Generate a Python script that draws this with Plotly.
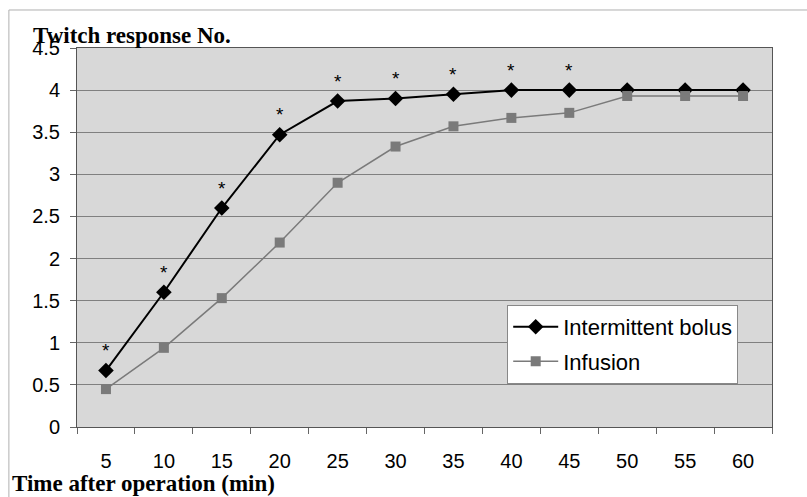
import plotly.graph_objects as go

times = [5, 10, 15, 20, 25, 30, 35, 40, 45, 50, 55, 60]
bolus = [0.67, 1.6, 2.6, 3.47, 3.87, 3.9, 3.95, 4.0, 4.0, 4.0, 4.0, 4.0]
infusion = [0.45, 0.94, 1.53, 2.19, 2.9, 3.33, 3.57, 3.67, 3.73, 3.93, 3.93, 3.93]
star_times = [5, 10, 15, 20, 25, 30, 35, 40, 45]
y_ticks = [0, 0.5, 1, 1.5, 2, 2.5, 3, 3.5, 4, 4.5]

fig = go.Figure()
fig.add_trace(go.Scatter(
    x=times, y=bolus, name="Intermittent bolus", mode="lines+markers",
    legendgroup="a",
    line=dict(color="#000000", width=2),
    marker=dict(symbol="diamond", size=12, color="#000000"),
))
fig.add_trace(go.Scatter(
    x=times, y=infusion, name="Infusion", mode="lines+markers",
    legendgroup="b",
    line=dict(color="#7a7a7a", width=1.5),
    marker=dict(symbol="square", size=10, color="#7a7a7a"),
))

bolus_map = dict(zip(times, bolus))
for t in star_times:
    fig.add_annotation(x=t, y=bolus_map[t], text="*", showarrow=False,
                       yshift=20, font=dict(family="Arial, Liberation Sans", size=19, color="#000"))

fig.add_annotation(xref="paper", yref="paper", x=-0.0663, y=1.034, xanchor="left", yanchor="middle",
                   text="<b>Twitch response No.</b>", showarrow=False,
                   font=dict(family="Liberation Serif, Times New Roman", size=23, color="#000"))
fig.add_annotation(xref="paper", yref="paper", x=-0.097, y=-0.148, xanchor="left", yanchor="middle",
                   text="<b>Time after operation (min)</b>", showarrow=False,
                   font=dict(family="Liberation Serif, Times New Roman", size=23, color="#000"))

# outer chart border (top and left visible)
fig.add_shape(type="line", xref="paper", yref="paper", x0=-0.098, x1=1.06, y0=1.1003, y1=1.1003,
              line=dict(color="#b0b0b0", width=1))
fig.add_shape(type="line", xref="paper", yref="paper", x0=-0.098, x1=-0.098, y0=-0.19, y1=1.1003,
              line=dict(color="#b0b0b0", width=1))

fig.update_layout(
    width=807, height=497,
    margin=dict(l=77, r=35, t=48, b=70),
    paper_bgcolor="#ffffff",
    plot_bgcolor="#d8d8d8",
    font=dict(family="Arial, Liberation Sans", size=20, color="#000"),
    showlegend=True,
    legend=dict(x=0.619, y=0.322, xanchor="left", yanchor="top",
                bgcolor="#ffffff", bordercolor="#888888", borderwidth=1,
                font=dict(family="Arial, Liberation Sans", size=22, color="#000"),
                itemwidth=45, tracegroupgap=3),
)
fig.update_xaxes(range=[2.5, 62.5], tickvals=times, ticktext=[str(t) for t in times],
                 ticks="", tickangle=0, automargin=False,
                 minor=dict(tick0=2.5, dtick=5, ticks="outside", ticklen=6, tickcolor="#666", showgrid=False),
                 showgrid=False, showline=True, linecolor="#555", linewidth=1, mirror=True,
                 zeroline=False, ticklabelstandoff=16)
fig.update_yaxes(range=[0, 4.5], tickvals=y_ticks, ticktext=[f"{v:g}" for v in y_ticks],
                 ticks="outside", ticklen=6, tickcolor="#666", automargin=False,
                 showgrid=True, gridcolor="#808080", gridwidth=1,
                 showline=True, linecolor="#555", linewidth=1, mirror=True,
                 zeroline=False, ticklabelstandoff=6)

fig.write_html("out.html", config={"displayModeBar": False},
               post_script="document.body.style.margin='0';document.body.style.overflow='hidden';")
